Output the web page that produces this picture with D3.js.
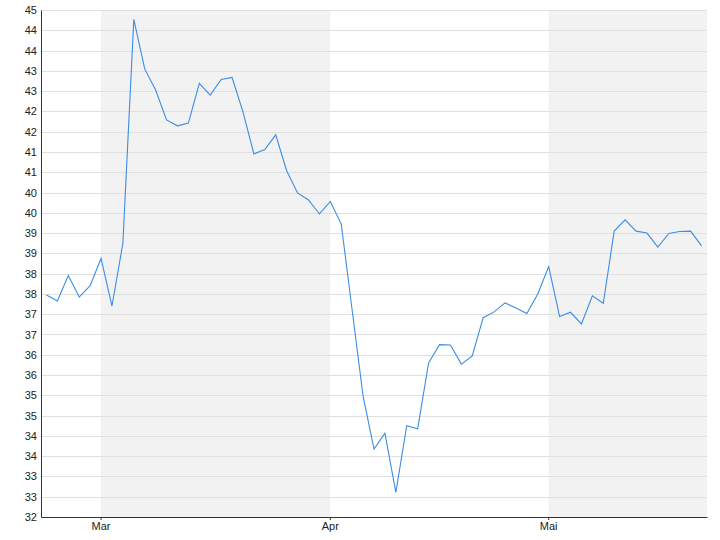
<!DOCTYPE html>
<html>
<head>
<meta charset="utf-8">
<script src="https://cdn.jsdelivr.net/npm/d3@7"></script>
<style>
  html, body { margin: 0; padding: 0; background: #fff; }
  svg { display: block; font-family: "Liberation Sans", Arial, sans-serif; }
</style>
</head>
<body>
<svg id="chart" width="720" height="540"></svg>
<script>
const dates = [
  "2016-02-23","2016-02-24","2016-02-25","2016-02-26","2016-02-29",
  "2016-03-01","2016-03-02","2016-03-03","2016-03-04","2016-03-07","2016-03-08","2016-03-09","2016-03-10","2016-03-11",
  "2016-03-14","2016-03-15","2016-03-16","2016-03-17","2016-03-18","2016-03-21","2016-03-22","2016-03-23","2016-03-24",
  "2016-03-29","2016-03-30","2016-03-31",
  "2016-04-01","2016-04-04","2016-04-05","2016-04-06","2016-04-07","2016-04-08","2016-04-11","2016-04-12","2016-04-13",
  "2016-04-14","2016-04-15","2016-04-18","2016-04-19","2016-04-20","2016-04-21","2016-04-22","2016-04-25","2016-04-26",
  "2016-04-27","2016-04-28",
  "2016-05-02","2016-05-03","2016-05-04","2016-05-05","2016-05-06","2016-05-09","2016-05-10","2016-05-11","2016-05-12",
  "2016-05-13","2016-05-16","2016-05-17","2016-05-18","2016-05-19","2016-05-20"
];
const values = [
  37.69, 37.54, 38.19, 37.64, 37.93,
  38.63, 37.41, 39.02, 44.76, 43.49, 42.95, 42.18, 42.03, 42.10,
  43.12, 42.82, 43.22, 43.27, 42.39, 41.31, 41.42, 41.80, 40.88,
  40.31, 40.13, 39.77,
  40.09, 39.51, 37.30, 35.10, 33.74, 34.15, 32.63, 34.34, 34.26,
  35.95, 36.42, 36.41, 35.92, 36.13, 37.11, 37.26, 37.49, 37.36,
  37.22, 37.72,
  38.42, 37.14, 37.25, 36.95, 37.67, 37.48, 39.33, 39.62, 39.33,
  39.28, 38.92, 39.27, 39.32, 39.33, 38.95
];
const monthNames = ["Jan","Feb","Mar","Apr","Mai","Jun","Jul","Aug","Sep","Okt","Nov","Dez"];
const shadedMonths = [2, 4];   // March, May (0-based month index)
const yMin = 32, yMax = 45, yTickCount = 26;

const W = 720, H = 540;
const margin = {top: 10, right: 13, bottom: 23, left: 41};
const svg = d3.select("#chart");

const x = d3.scaleBand().domain(dates).range([margin.left, W - margin.right]).padding(0);
const xc = d => x(d) + x.bandwidth() / 2;
const y = d3.scaleLinear().domain([yMin, yMax]).range([H - margin.bottom, margin.top]);

// first trading day of each month
const month = d => +d.slice(5, 7) - 1;
const firsts = dates.filter((d, i) => i === 0 ? false : month(d) !== month(dates[i - 1]));

// shaded bands
shadedMonths.forEach(m => {
  const start = firsts.find(d => month(d) === m);
  if (!start) return;
  const next = firsts.find(d => month(d) === m + 1);
  const x0 = xc(start);
  const x1 = next ? xc(next) : W - margin.right;
  svg.append("rect")
    .attr("x", x0).attr("y", margin.top)
    .attr("width", x1 - x0).attr("height", H - margin.bottom - margin.top)
    .attr("fill", "#f2f2f2");
});

// y ticks & grid
const yTicks = d3.range(yTickCount).map(i => yMin + i * (yMax - yMin) / (yTickCount - 1));
svg.append("g").selectAll("line").data(yTicks).join("line")
  .attr("x1", margin.left).attr("x2", W - margin.right)
  .attr("y1", d => Math.round(y(d)) + 0.5).attr("y2", d => Math.round(y(d)) + 0.5)
  .attr("stroke", "#e0e0e0").attr("stroke-width", 1);

const yAxis = svg.append("g")
  .attr("transform", `translate(${margin.left},0)`)
  .call(d3.axisLeft(y).tickValues(yTicks).tickSize(0).tickPadding(4)
    .tickFormat(d => String(Math.round(d))));
yAxis.select(".domain").attr("stroke", "#333");
yAxis.selectAll("text").attr("font-size", 11).attr("fill", "#222")
  .attr("font-family", "'Liberation Sans', Arial, sans-serif");

// x axis
const xAxis = svg.append("g")
  .attr("transform", `translate(0,${H - margin.bottom})`)
  .call(d3.axisBottom(x).tickValues(firsts).tickSizeInner(3).tickSizeOuter(0).tickPadding(2)
    .tickFormat(d => monthNames[month(d)]));
xAxis.select(".domain").attr("stroke", "#333");
xAxis.selectAll(".tick line").attr("stroke", "#333");
xAxis.selectAll("text").attr("font-size", 11).attr("fill", "#222")
  .attr("font-family", "'Liberation Sans', Arial, sans-serif");

// line
const line = d3.line().x((d, i) => xc(dates[i])).y(d => y(d));
svg.append("path").datum(values)
  .attr("d", line)
  .attr("fill", "none")
  .attr("stroke", "#3a8ee6")
  .attr("stroke-width", 1.1)
  .attr("stroke-linejoin", "miter");
</script>
</body>
</html>
